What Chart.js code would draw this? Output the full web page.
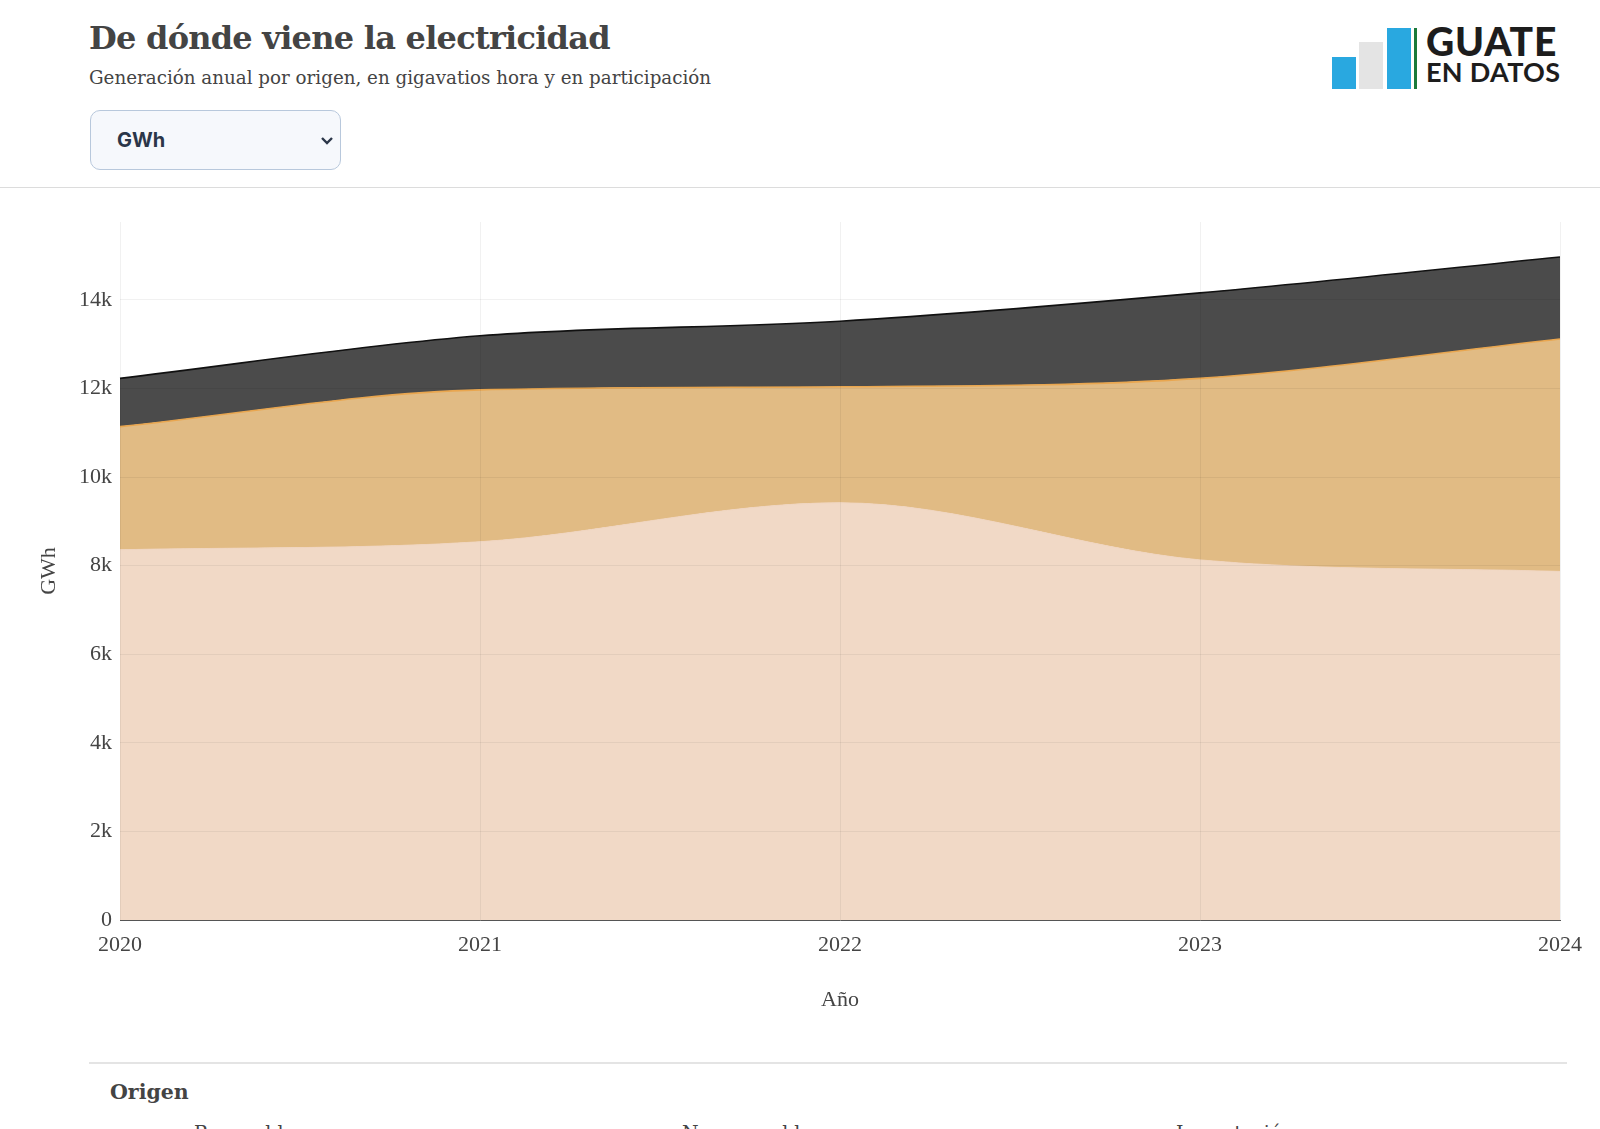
<!DOCTYPE html>
<html lang="es">
<head>
<meta charset="UTF-8" />
<title>De dónde viene la electricidad</title>
<script src="https://cdn.jsdelivr.net/npm/chart.js"></script>
<style>
  html, body { margin: 0; padding: 0; background: #fff; }
  body { width: 1600px; height: 1129px; position: relative; overflow: hidden; font-family: "Liberation Serif", serif; color: #444; }
  .title { position: absolute; left: 89px; top: 19px; font-family: "DejaVu Serif", serif; font-size: 32px; font-weight: bold; color: #444; margin: 0; letter-spacing: -0.75px; }
  .subtitle { position: absolute; left: 89px; top: 67px; font-family: "DejaVu Serif", serif; font-size: 18.3px; color: #444; }
  .picker {
    position: absolute; left: 90px; top: 110px; width: 251px; height: 60px; box-sizing: border-box;
    border: 1.5px solid #b8c8dc; border-radius: 10px; background: #f6f8fc;
    font-family: Inter, "Noto Sans", sans-serif; font-weight: 700; font-size: 20px; color: #2b3649;
    padding-left: 26px; appearance: none; -webkit-appearance: none;
    background-image: url("data:image/svg+xml,%3Csvg xmlns='http://www.w3.org/2000/svg' width='14' height='10'%3E%3Cpath d='M2 2 L7 7 L12 2' stroke='%232b3649' stroke-width='2.4' fill='none'/%3E%3C/svg%3E");
    background-repeat: no-repeat; background-position: 229px 25px;
  }
  .rule { position: absolute; left: 0; top: 187px; width: 1600px; height: 1px; background: #dcdcdc; }
  .logo { position: absolute; left: 1330px; top: 23px; width: 250px; height: 66px; }
  .logo .bar { position: absolute; bottom: 0; width: 24px; }
  .logo .txt { position: absolute; left: 96px; font-family: Lato, "Open Sans", sans-serif; color: #1d1d1d; white-space: nowrap; }
  #wrap { position: absolute; left: 0; top: 200px; width: 1600px; height: 817px; }
  .legend-rule { position: absolute; left: 89px; top: 1062px; width: 1478px; height: 2px; background: #e4e4e4; }
  .legend-title { position: absolute; left: 110px; top: 1080px; font-family: "DejaVu Serif", serif; font-size: 20.5px; font-weight: bold; color: #444; }
  .legend-item { position: absolute; top: 1121px; font-family: "DejaVu Serif", serif; font-size: 19px; color: #444; }
  .legend-item span.sw { position: absolute; left: -30px; top: 16px; width: 18px; height: 18px; border-radius: 50%; }
</style>
</head>
<body>

<h1 class="title">De dónde viene la electricidad</h1>
<div class="subtitle">Generación anual por origen, en gigavatios hora y en participación</div>
<select class="picker"><option>GWh</option><option>%</option></select>
<div class="rule"></div>

<div class="logo">
  <div class="bar" style="left:2px;height:32px;background:#29a8e0"></div>
  <div class="bar" style="left:29px;height:47px;background:#e4e4e4"></div>
  <div class="bar" style="left:57px;height:61px;background:#29a8e0"></div>
  <div class="bar" style="left:84px;width:3px;height:61px;background:#1b7a3a"></div>
  <div class="txt" style="top:-5px;font-size:39px;font-weight:900;letter-spacing:0.8px">GUATE</div>
  <div class="txt" style="top:32px;font-size:27px;font-weight:700;letter-spacing:0.3px">EN DATOS</div>
</div>

<div id="wrap"><canvas id="chart"></canvas></div>

<div class="legend-rule"></div>
<div class="legend-title">Origen</div>
<div id="legend"></div>

<script>
  const years = ['2020', '2021', '2022', '2023', '2024'];
  const seriesNames = ['Renovable', 'No renovable', 'Importación'];
  const renovable = [8360, 8540, 9420, 8130, 7870];
  const noRenovable = [2780, 3430, 2620, 4100, 5250];
  const importacion = [1090, 1220, 1480, 1930, 1850];
  const yTicks = [0, 2000, 4000, 6000, 8000, 10000, 12000, 14000];

  const fills = ['#f1d9c6', '#e1bb84', '#4b4b4b'];
  const lines = ['#f0d5c0', '#e9a64f', '#111111'];
  const values = [renovable, noRenovable, importacion];

  // leyenda en HTML (queda cortada abajo, igual que el original)
  const legendX = [194, 682, 1176];
  const legend = document.getElementById('legend');
  seriesNames.forEach((name, i) => {
    const d = document.createElement('div');
    d.className = 'legend-item';
    d.style.left = legendX[i] + 'px';
    d.innerHTML = `<span class="sw" style="background:${fills[i]}"></span>${name}`;
    legend.appendChild(d);
  });

  const serif = '"Liberation Serif", serif';
  const ctx = document.getElementById('chart').getContext('2d');
  new Chart(ctx, {
    type: 'line',
    data: {
      labels: years,
      datasets: seriesNames.map((name, i) => ({
        label: name,
        data: values[i],
        backgroundColor: fills[i],
        borderColor: lines[i],
        borderWidth: i === 0 ? 1 : 1.6,
        fill: i === 0 ? 'origin' : '-1',
        pointRadius: 0,
        cubicInterpolationMode: 'monotone'
      }))
    },
    options: {
      responsive: true,
      maintainAspectRatio: false,
      animation: false,
      layout: { padding: { top: 22, right: 40, left: 32, bottom: 0 } },
      plugins: { legend: { display: false }, tooltip: { enabled: false } },
      scales: {
        x: {
          offset: false,
          grid: { color: 'rgba(0,0,0,0.055)', z: 1, drawTicks: false },
          border: { color: '#555', width: 1, z: 2 },
          ticks: { color: '#444', font: { family: serif, size: 22 }, padding: 12, maxRotation: 0 },
          title: { display: true, text: 'Año', color: '#444', font: { family: serif, size: 22 }, padding: { top: 4, bottom: 4 } },
          afterFit: s => { s.height = 97; }
        },
        y: {
          stacked: true,
          min: 0,
          max: 15760,
          afterBuildTicks: s => { s.ticks = yTicks.map(v => ({ value: v })); },
          grid: { color: 'rgba(0,0,0,0.055)', z: 1, drawTicks: false },
          border: { display: false },
          ticks: {
            color: '#444', font: { family: serif, size: 22 }, padding: 8,
            callback: v => v === 0 ? '0' : (v / 1000) + 'k'
          },
          title: { display: true, text: 'GWh', color: '#444', font: { family: serif, size: 22 }, padding: { top: 4, bottom: 4 } },
          afterFit: s => { s.width = 88; }
        }
      }
    }
  });
</script>
</body>
</html>
